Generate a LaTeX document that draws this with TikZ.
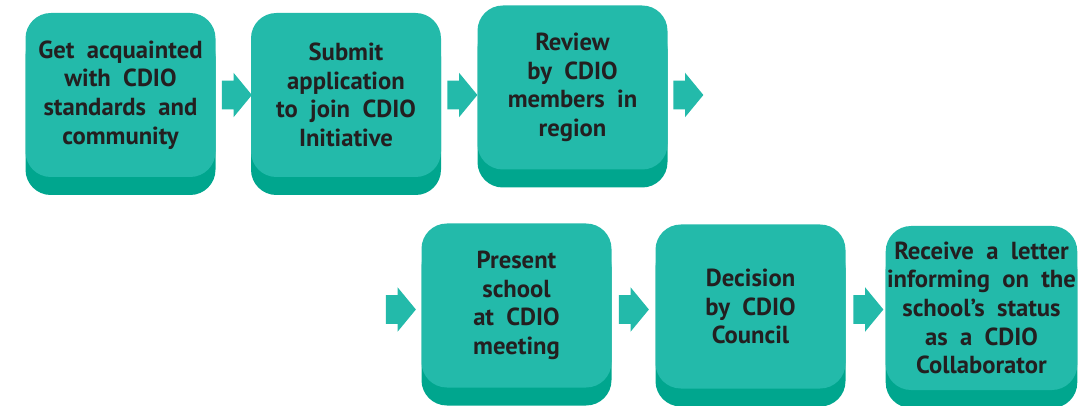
\documentclass[tikz,border=0pt]{standalone}
\usepackage{fontspec}
\setmainfont{PT Sans}
\usetikzlibrary{shapes.arrows, shadows}
\definecolor{stepface}{RGB}{35,186,170}
\definecolor{stepdepth}{RGB}{0,166,142}
\definecolor{steptext}{RGB}{35,31,32}

\begin{document}
\begin{tikzpicture}[x=0.75pt,y=0.75pt,yscale=-1,xscale=1,
        stepbox/.style={fill=stepface, rounded corners=19pt, minimum width=142.5pt, minimum height=123pt,
            inner xsep=1pt, align=center, text=steptext, font=\bfseries\fontsize{18.5}{21.5}\selectfont,
            execute at begin node={\spaceskip=0.5em\relax},
            general shadow={fill=stepdepth, shadow yshift=-13.5pt}},
        flowarrow/.style={single arrow, fill=stepface, inner xsep=0pt, inner ysep=10.5pt, minimum height=22.5pt,
            single arrow head extend=6pt, single arrow tip angle=101}]
        \useasboundingbox (0,0) rectangle (1083,406);

        % Steps, top row
        \node[stepbox] (acquaint) at (120.5,95) {Get acquainted\\with CDIO\\standards and\\community};
        \node[stepbox] (submit) at (346,95) {Submit\\application\\to join CDIO\\Initiative};
        \node[stepbox] (review) at (572.5,87.5) {Review\\by CDIO\\members in\\region};

        % Steps, bottom row
        \node[stepbox] (present) at (516.5,305.5) {Present\\school\\at CDIO\\meeting};
        \node[stepbox] (decision) at (750.5,306.5) {Decision\\by CDIO\\Council};
        \node[stepbox] (letter) at (981.5,308) {Receive a letter\\informing on the\\school’s status\\as a CDIO\\Collaborator};

        % Block arrows
        \node[flowarrow] (toSubmit) at (231,95) {};
        \node[flowarrow] (toReview) at (456.5,95) {};
        \node[flowarrow] (fromReview) at (682.5,95) {};
        \node[flowarrow] (toPresent) at (395,309.5) {};
        \node[flowarrow] (toDecision) at (628,309.5) {};
        \node[flowarrow] (toLetter) at (862.5,309.5) {};

\end{tikzpicture}
\end{document}
